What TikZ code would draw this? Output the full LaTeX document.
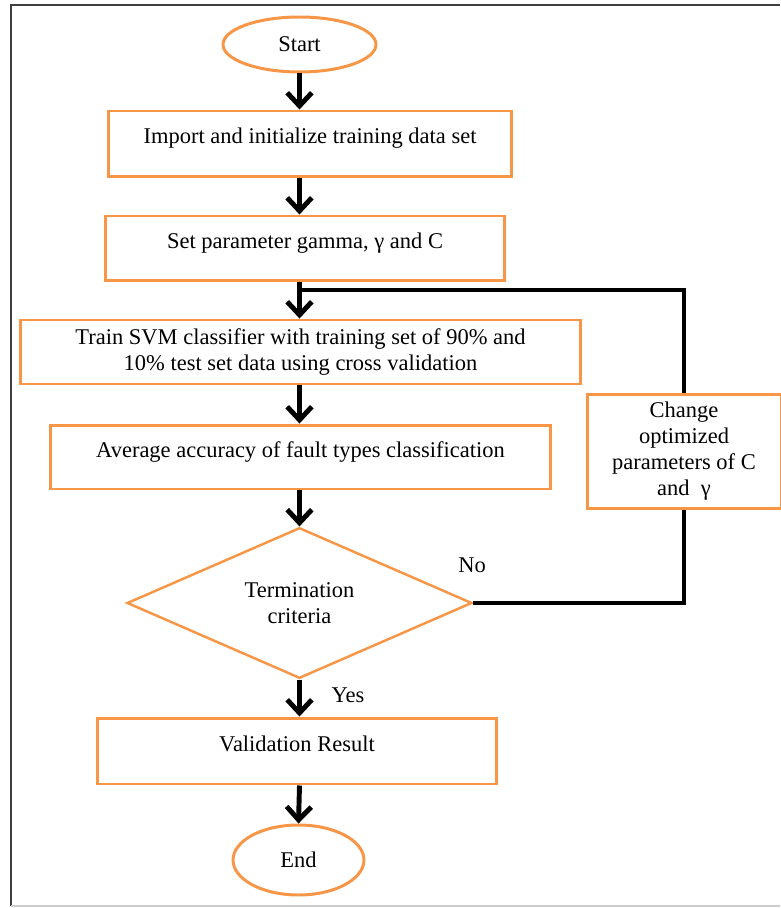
\documentclass[tikz,border=0pt]{standalone}
\usepackage{fontspec}
\setmainfont{Liberation Serif}
\usepackage{tikz}
\usetikzlibrary{shapes.geometric,arrows.meta}
\definecolor{boxorange}{HTML}{F79646}

\begin{document}
\begin{tikzpicture}[x=0.02cm,y=-0.02cm,
			every node/.style={font=\fontsize{12.8}{14.8}\selectfont},
			procbox/.style={draw=boxorange,line width=1.7pt,rectangle},
			oneline/.style={text height=8pt,text depth=8pt},
			termnode/.style={draw=boxorange,line width=1.7pt,ellipse},
			decision/.style={draw=boxorange,line width=1.4pt,diamond,align=center,inner sep=0pt},
			flow/.style={line width=2.8pt,-{Straight Barb[length=7.5pt,width=14pt]}},
			loopline/.style={line width=2.3pt}]
		\useasboundingbox (0,0) rectangle (780,908);
		% frame
		\draw[line width=1.1pt,black!75] (780,5) -- (11,5) -- (11,906);
		\draw[line width=1.1pt,black!20] (11,906) -- (780,906);
		% steps
		\node[termnode,minimum width=3.06cm,minimum height=1.1cm] (start) at (299.5,44.5) {Start};
		\node[procbox,oneline,minimum width=8.08cm,minimum height=1.32cm] (import) at (310,144) {Import and initialize training data set};
		\node[procbox,oneline,minimum width=8cm,minimum height=1.3cm] (setparam) at (305,248.5) {Set parameter gamma, γ and C};
		\node[procbox,align=center,minimum width=11.22cm,minimum height=1.28cm] (train) at (300.5,352)
			{Train SVM classifier with training set of 90\% and\\10\% test set data using cross validation};
		\node[procbox,oneline,minimum width=10.02cm,minimum height=1.28cm] (average) at (300.5,457) {Average accuracy of fault types classification};
		\node[procbox,align=center,minimum width=3.88cm,minimum height=2.3cm] (change) at (684,451.5)
			{Change\\optimized\\parameters of C\\and\ \ γ};
		\node[decision,minimum width=6.9cm,minimum height=2.92cm] (term) at (299.5,603) {Termination\\criteria};
		\node[procbox,oneline,minimum width=8cm,minimum height=1.32cm] (valid) at (297,751) {Validation Result};
		\node[termnode,minimum width=2.62cm,minimum height=1.4cm] (stop) at (298.5,860) {End};
		% labels
		\node (no) at (472,565) {No};
		\node (yes) at (348,695) {Yes};
		\coordinate (join) at (299,290);
		% arrows
		\draw[flow] (start.south) -- (start.south |- import.north);
		\draw[flow] (start.south |- import.south) -- (start.south |- setparam.north);
		\draw[flow] (start.south |- setparam.south) -- (start.south |- train.north);
		\draw[flow] (start.south |- train.south) -- (start.south |- average.north);
		\draw[flow] (start.south |- average.south) -- (term.north);
		\draw[flow] (term.south) -- (term.south |- valid.north);
		\draw[flow] (term.south |- valid.south) -- (stop.north);
		% loop back
		\draw[loopline] (term.east) -| (change.south);
		\draw[loopline] (change.north) |- (join);
\end{tikzpicture}
\end{document}
